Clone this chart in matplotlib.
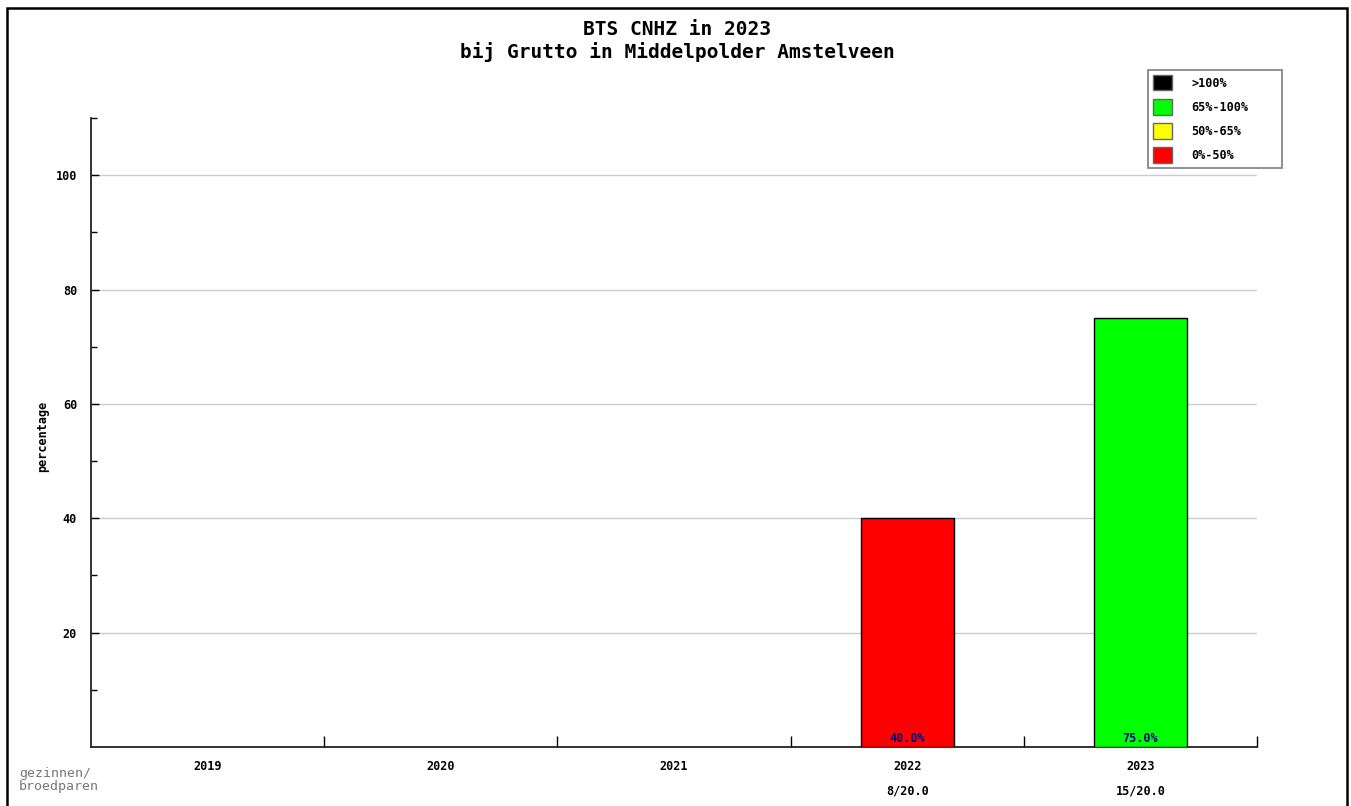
import matplotlib.pyplot as plt
from matplotlib.patches import Patch, Rectangle

jaren = ['2019', '2020', '2021', '2022', '2023']
percentages = [0, 0, 0, 40.0, 75.0]
kleuren = ['none', 'none', 'none', '#ff0000', '#00ff00']
aantallen = ['', '', '', '8/20.0', '15/20.0']

legenda_labels = ['>100%', '65%-100%', '50%-65%', '0%-50%']
legenda_kleuren = ['#000000', '#00ff00', '#ffff00', '#ff0000']

mono = 'DejaVu Sans Mono'
fs = 8.5

fig = plt.figure(figsize=(13.51, 8.06), dpi=100)
ax = fig.add_axes([91 / 1351, 59 / 806, 1166 / 1351, 629 / 806])

x = list(range(len(jaren)))
for i in x:
    if percentages[i] > 0:
        ax.bar(i, percentages[i], width=0.4, color=kleuren[i],
               edgecolor='black', linewidth=1, zorder=3)
        ax.text(i, 1.4, f'{percentages[i]:.1f}%', ha='center', va='center',
                color='#000080', fontsize=fs, family=mono, fontweight='bold', zorder=4)
    if aantallen[i]:
        ax.text(i, -7.7, aantallen[i], ha='center', va='center',
                fontsize=fs, family=mono, fontweight='bold')

ax.set_xlim(-0.5, len(jaren) - 0.5)
ax.set_ylim(0, 110)

ax.set_xticks([i + 0.5 for i in x])
ax.set_xticklabels([])
ax.set_xticks(x, minor=True)
ax.set_xticklabels(jaren, minor=True, family=mono, fontsize=fs, fontweight='bold')
ax.tick_params(axis='x', which='major', direction='in', length=8, width=1)
ax.tick_params(axis='x', which='minor', length=0, pad=9)

ax.set_yticks([20, 40, 60, 80, 100])
ax.set_yticks([10, 30, 50, 70, 90, 110], minor=True)
ax.set_yticklabels(['20', '40', '60', '80', '100'], family=mono, fontsize=fs,
                   fontweight='bold')
ax.tick_params(axis='y', which='major', direction='in', length=6, width=1, pad=10)
ax.tick_params(axis='y', which='minor', direction='in', length=4, width=1)
ax.grid(axis='y', which='major', color='#cccccc', linewidth=1, zorder=0)

for s in ['top', 'right']:
    ax.spines[s].set_visible(False)
for s in ['left', 'bottom']:
    ax.spines[s].set_linewidth(1.3)
    ax.spines[s].set_color('#222222')

fig.text(43 / 1351, 1 - 436 / 806, 'percentage', rotation=90, ha='center',
         va='center', family=mono, fontsize=fs, fontweight='bold')
fig.text(677 / 1351, 1 - 41 / 806, 'BTS CNHZ in 2023\nbij Grutto in Middelpolder Amstelveen',
         ha='center', va='center', family=mono, fontweight='bold', fontsize=14,
         linespacing=1.15)
fig.text(19 / 1351, 1 - 780 / 806, 'gezinnen/\nbroedparen', ha='left', va='center',
         family=mono, fontsize=9.5, color='#777777', linespacing=1.0)

handles = [Patch(facecolor=c, edgecolor='#666666') for c in legenda_kleuren]
leg = fig.legend(handles, legenda_labels, loc='upper left', mode='expand',
                 bbox_to_anchor=(1148 / 1351, 1 - 170 / 806, 134 / 1351, 100 / 806),
                 prop={'family': mono, 'size': fs, 'weight': 'bold'}, fancybox=False,
                 framealpha=1, edgecolor='#888888', handlelength=1.6,
                 handleheight=1.6, labelspacing=0.75, borderpad=0.45,
                 handletextpad=1.6, borderaxespad=0)
leg.get_frame().set_linewidth(1.3)

fig.patches.append(Rectangle((7 / 1351, -0.01), 1340 / 1351, 1 - 8 / 806 + 0.01,
                             transform=fig.transFigure, fill=False,
                             edgecolor='black', linewidth=1.8))

fig.savefig('out.png', dpi=100)
